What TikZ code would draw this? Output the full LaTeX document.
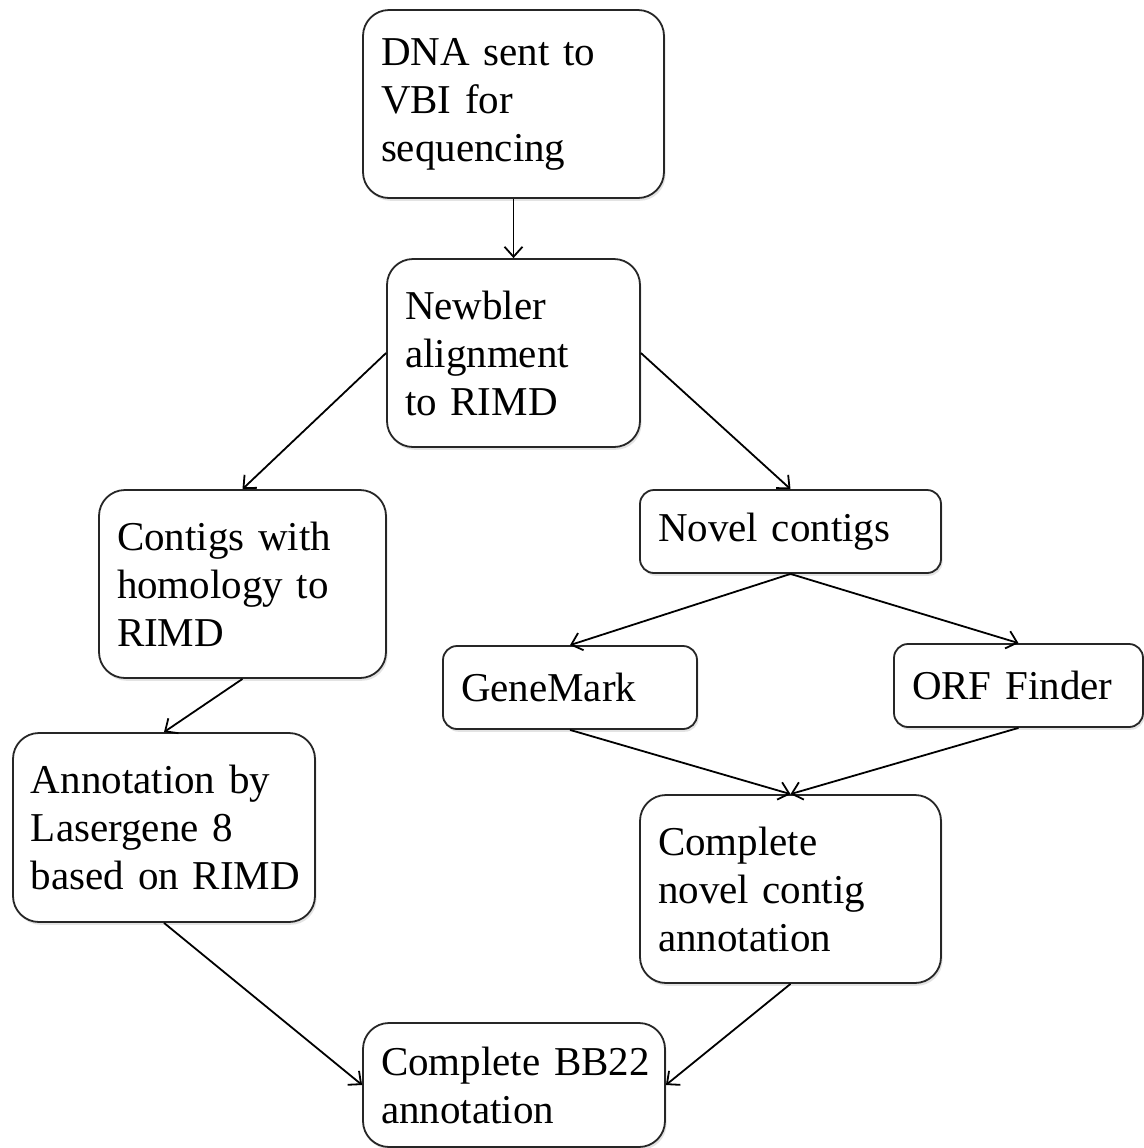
\documentclass[tikz,border=0pt]{standalone}
\usepackage{fontspec}
\setmainfont{Liberation Serif}
\usepackage{tikz}
\usetikzlibrary{positioning, shadows, arrows.meta}
\tikzset{
	flowbox/.style={
			rectangle,
			draw=black!85,
			line width=0.9pt,
			fill=white,
			rounded corners=13pt,
			drop shadow={opacity=0.22, shadow xshift=0.8pt, shadow yshift=-1.4pt},
			align=left,
			inner xsep=9pt,
			inner ysep=0pt,
			font=\fontsize{20.5pt}{24pt}\selectfont
		},
	shortbox/.style={
			flowbox,
			rounded corners=7pt
		},
	flowarrow/.style={
			draw=black,
			line width=0.9pt,
			-{Straight Barb[length=5pt,width=9pt]}
		}
}

\begin{document}
\begin{tikzpicture}[x=0.5pt, y=-0.5pt]
\useasboundingbox (0,0) rectangle (1144,1148);

\node[flowbox, text width=132.5pt, minimum height=94pt] (dna) at (513.5,104) {DNA~sent~to\\VBI for\\sequencing};
\node[flowbox, text width=108.5pt, minimum height=94pt] (newbler) at (513.5,353) {Newbler\\alignment\\to RIMD};
\node[flowbox, text width=125.5pt, minimum height=94pt] (contigs) at (242.5,584) {Contigs~with\\homology~to\\RIMD};
\node[shortbox, text width=132.5pt, minimum height=41.5pt] (novel) at (790.5,531.5) {Novel contigs};
\node[shortbox, text width=109pt, minimum height=41.5pt] (genemark) at (570,687.5) {GeneMark};
\node[shortbox, text width=106.5pt, minimum height=41.5pt] (orf) at (1018.5,685.5) {ORF~Finder};
\node[flowbox, text width=133pt, minimum height=94.5pt] (annot) at (164,827.5) {Annotation~by\\Lasergene 8\\based~on~RIMD};
\node[flowbox, text width=132.5pt, minimum height=94pt] (complete) at (790.5,889) {Complete\\novel contig\\annotation};
\node[flowbox, text width=133pt, minimum height=62pt] (bb22) at (514,1085) {Complete~BB22\\annotation};

\draw[flowarrow] (dna) -- (newbler);
\draw[flowarrow] (newbler.west) -- (contigs.north);
\draw[flowarrow] (newbler.east) -- (novel.north);

\draw[flowarrow] (contigs.south) -- (annot.north);
\draw[flowarrow] (novel.south) -- (genemark.north);
\draw[flowarrow] (novel.south) -- (orf.north);

\draw[flowarrow] (genemark.south) -- (complete.north);
\draw[flowarrow] (orf.south) -- (complete.north);

\draw[flowarrow] (annot.south) -- (bb22.west);
\draw[flowarrow] (complete.south) -- (bb22.east);

\end{tikzpicture}
\end{document}
